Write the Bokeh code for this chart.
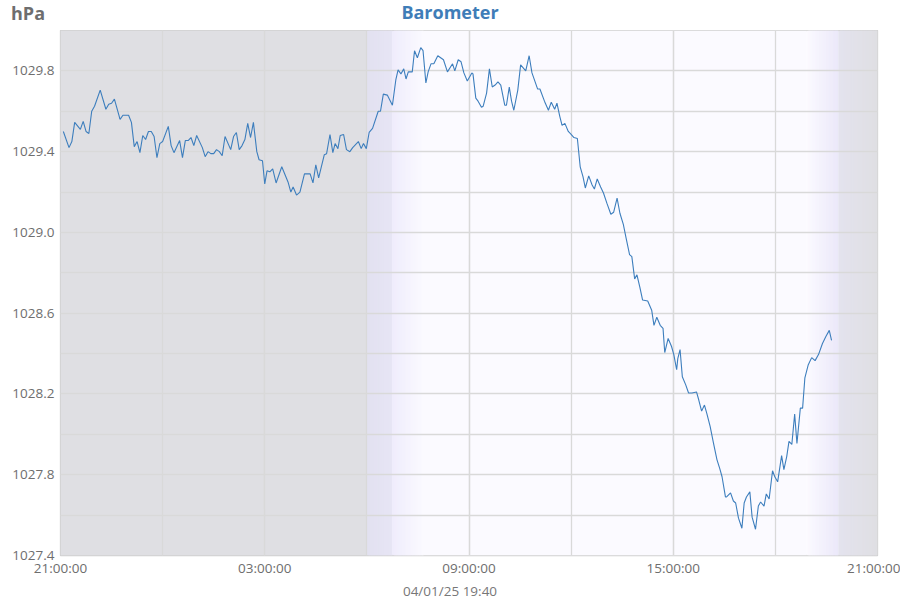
import numpy as np
from bokeh.plotting import figure
from bokeh.layouts import column
from bokeh.models import (Range1d, FixedTicker, DatetimeTickFormatter, BoxAnnotation, Div,
                          PrintfTickFormatter)
from bokeh.embed import file_html
from bokeh.resources import INLINE

# 24 hours of barometer readings, starting 31 Mar 2025 21:00
start = np.datetime64("2025-03-31T21:00")

minutes = [
    5, 15, 20, 25, 35, 40, 45, 50, 55, 60, 70, 80, 85, 90, 95, 105, 110, 120,
    125, 130, 135, 140, 145, 150, 155, 160, 165, 170, 175, 180, 190, 195, 200,
    210, 215, 220, 225, 230, 235, 240, 250, 255, 260, 265, 270, 275, 280, 285,
    290, 300, 305, 310, 315, 320, 325, 330, 335, 340, 346, 350, 356, 360, 364,
    369, 374, 380, 390, 401, 406, 410, 416, 422, 430, 440, 445, 450, 455, 465,
    469, 475, 480, 484, 489, 493, 499, 504, 510, 515, 525, 530, 534, 539, 544,
    550, 560, 564, 569, 576, 585, 591, 595, 600, 605, 609, 613, 620, 624, 629,
    635, 639, 644, 648, 653, 658, 665, 675, 682, 691, 695, 701, 706, 711, 717,
    725, 727, 732, 736, 742, 745, 751, 756, 761, 766, 771, 776, 783, 786, 791,
    795, 799, 806, 811, 820, 826, 831, 841, 845, 853, 860, 865, 871, 875, 880,
    884, 889, 895, 900, 905, 911, 916, 921, 925, 931, 937, 941, 946, 952, 957,
    963, 970, 975, 981, 986, 992, 997, 1003, 1007, 1012, 1016, 1021, 1026,
    1035, 1042, 1046, 1051, 1057, 1062, 1065, 1071, 1077, 1081, 1086, 1088,
    1092, 1096, 1102, 1107, 1113, 1121, 1125, 1130, 1135, 1139, 1145, 1151,
    1157, 1162, 1166, 1172, 1174, 1181, 1186, 1190, 1195, 1201, 1205, 1209,
    1215, 1219, 1225, 1230, 1234, 1240, 1244, 1249, 1255, 1259, 1264, 1271,
    1275, 1280, 1284, 1289, 1294, 1298, 1304, 1308, 1312, 1318, 1324, 1330,
    1336, 1343, 1349, 1355, 1359,
]

pressure = [
    1029.50, 1029.42, 1029.45, 1029.545, 1029.51, 1029.55, 1029.50, 1029.49,
    1029.60, 1029.625, 1029.705, 1029.61, 1029.635, 1029.64, 1029.66, 1029.56,
    1029.58, 1029.58, 1029.545, 1029.425, 1029.45, 1029.395, 1029.48, 1029.46,
    1029.50, 1029.50, 1029.475, 1029.37, 1029.44, 1029.45, 1029.525, 1029.43,
    1029.395, 1029.455, 1029.37, 1029.455, 1029.455, 1029.47, 1029.43,
    1029.48, 1029.42, 1029.375, 1029.40, 1029.39, 1029.39, 1029.41, 1029.40,
    1029.38, 1029.475, 1029.41, 1029.475, 1029.495, 1029.41, 1029.43, 1029.46,
    1029.54, 1029.47, 1029.545, 1029.40, 1029.36, 1029.355, 1029.24, 1029.305,
    1029.30, 1029.315, 1029.245, 1029.325, 1029.25, 1029.20, 1029.225,
    1029.185, 1029.20, 1029.29, 1029.29, 1029.245, 1029.335, 1029.27,
    1029.385, 1029.39, 1029.485, 1029.395, 1029.44, 1029.415, 1029.48,
    1029.485, 1029.41, 1029.40, 1029.42, 1029.45, 1029.415, 1029.44, 1029.415,
    1029.495, 1029.515, 1029.60, 1029.60, 1029.685, 1029.68, 1029.63,
    1029.755, 1029.805, 1029.785, 1029.81, 1029.76, 1029.795, 1029.795,
    1029.90, 1029.865, 1029.915, 1029.90, 1029.74, 1029.795, 1029.835,
    1029.835, 1029.875, 1029.855, 1029.795, 1029.835, 1029.80, 1029.855,
    1029.845, 1029.79, 1029.75, 1029.79, 1029.785, 1029.665, 1029.65, 1029.62,
    1029.625, 1029.69, 1029.81, 1029.72, 1029.73, 1029.745, 1029.73, 1029.63,
    1029.63, 1029.72, 1029.65, 1029.605, 1029.705, 1029.83, 1029.80, 1029.875,
    1029.79, 1029.71, 1029.71, 1029.65, 1029.605, 1029.645, 1029.61, 1029.64,
    1029.575, 1029.53, 1029.54, 1029.50, 1029.485, 1029.47, 1029.465,
    1029.325, 1029.275, 1029.22, 1029.28, 1029.235, 1029.215, 1029.265,
    1029.225, 1029.195, 1029.145, 1029.09, 1029.10, 1029.17, 1029.095,
    1029.04, 1028.97, 1028.89, 1028.88, 1028.77, 1028.79, 1028.73, 1028.665,
    1028.66, 1028.615, 1028.54, 1028.58, 1028.54, 1028.525, 1028.405,
    1028.475, 1028.435, 1028.395, 1028.32, 1028.375, 1028.42, 1028.285,
    1028.245, 1028.205, 1028.205, 1028.21, 1028.17, 1028.115, 1028.145,
    1028.105, 1028.04, 1027.955, 1027.875, 1027.83, 1027.79, 1027.69,
    1027.69, 1027.71, 1027.67, 1027.66, 1027.585, 1027.535, 1027.66, 1027.69,
    1027.715, 1027.59, 1027.53, 1027.645, 1027.665, 1027.645, 1027.705,
    1027.68, 1027.82, 1027.79, 1027.765, 1027.895, 1027.825, 1027.89,
    1027.965, 1027.95, 1028.10, 1027.955, 1028.13, 1028.13, 1028.28, 1028.345,
    1028.38, 1028.365, 1028.395, 1028.45, 1028.485, 1028.515, 1028.465,
]

y_ticks = [1027.4, 1027.8, 1028.2, 1028.6, 1029.0, 1029.4, 1029.8]
y_minor = [1027.6, 1028.0, 1028.4, 1028.8, 1029.2, 1029.6, 1030.0]

title_text = "Barometer"
unit_text = "hPa"
stamp_text = "04/01/25 19:40"

# night / twilight / day shading (minutes after start, rgb at both ends)
NIGHT = (223, 223, 227)
DAY = (251, 250, 255)
shade = [
    (0, 540, NIGHT, NIGHT),
    (540, 585, (226, 225, 240), (231, 229, 245)),
    (585, 640, (239, 236, 252), DAY),
    (640, 1315, DAY, DAY),
    (1315, 1371, DAY, (235, 232, 249)),
    (1371, 1440, (228, 227, 238), NIGHT),
]

EPOCH = np.datetime64("1970-01-01T00:00")
START_MS = float((start - EPOCH) / np.timedelta64(1, "ms"))


def ms(m):
    return START_MS + m * 60000.0


times = (start + np.array(minutes).astype("timedelta64[m]")).astype("datetime64[ms]")

p = figure(width=900, height=550, x_axis_type="datetime",
           x_range=Range1d(ms(0), ms(1440)), y_range=Range1d(1027.4, 1030.0),
           output_backend="svg", toolbar_location=None,
           min_border_left=60, min_border_right=23, min_border_top=0, min_border_bottom=25)
p.background_fill_color = "white"
p.border_fill_color = "white"
p.outline_line_color = "#d0d0d0"
p.outline_line_width = 1.3

for t0, t1, c0, c1 in shade:
    n = 1 if c0 == c1 else max(1, (t1 - t0) // 3)
    for i in range(n):
        a = t0 + (t1 - t0) * i / n
        b = t0 + (t1 - t0) * (i + 1) / n
        f = (i + 0.5) / n
        col = tuple(int(round(c0[k] + (c1[k] - c0[k]) * f)) for k in range(3))
        # each stripe overlaps the next one, so no seams show between them
        extra = 0 if (n == 1 or i == n - 1) else (b - a)
        p.add_layout(BoxAnnotation(left=ms(a), right=ms(b + extra),
                                   fill_color="#%02x%02x%02x" % col,
                                   fill_alpha=1, line_color=None, level="image"))

p.line(times, pressure, line_color="#3d7ebd", line_width=1.1)

xticker = FixedTicker(ticks=[ms(m) for m in range(0, 1441, 360)],
                      minor_ticks=[ms(m) for m in range(0, 1441, 180)])
p.xaxis.ticker = xticker
fmt = "%H:%M:%S"
p.xaxis.formatter = DatetimeTickFormatter(
    microseconds=fmt, milliseconds=fmt, seconds=fmt, minsec=fmt, minutes=fmt,
    hourmin=fmt, hours=fmt, days=fmt, months=fmt, years=fmt, strip_leading_zeros=False)
p.yaxis.ticker = FixedTicker(ticks=y_ticks, minor_ticks=y_minor)
p.yaxis.formatter = PrintfTickFormatter(format="%.1f")

for ax in (p.xaxis, p.yaxis):
    ax.axis_line_color = None
    ax.major_tick_line_color = None
    ax.minor_tick_line_color = None
    ax.major_tick_out = 0
    ax.major_tick_in = 0
    ax.minor_tick_out = 0
    ax.minor_tick_in = 0
    ax.major_label_text_font = "Open Sans"
    ax.major_label_text_font_size = "13.5px"
    ax.major_label_text_color = "#6e6e6e"
p.yaxis.major_label_standoff = 6
p.xaxis.major_label_standoff = 3

for g in (p.xgrid, p.ygrid):
    g.grid_line_color = "#d9d9d9"
    g.grid_line_width = 1.3
    g.minor_grid_line_color = "#d9d9d9"
    g.minor_grid_line_width = 1.3

header = Div(width=900, height=30, margin=0, text=(
    '<div style="position:relative;width:900px;height:30px;font-family:\'Open Sans\';'
    'font-weight:bold;font-size:18px;line-height:normal;">'
    '<span style="position:absolute;left:11px;top:1px;color:#6e6e6e;">%s</span>'
    '<span style="position:absolute;left:0;top:0;width:900px;text-align:center;'
    'color:#3f7db8;">%s</span></div>') % (unit_text, title_text))
footer = Div(width=900, height=20, margin=0, text=(
    '<div style="position:relative;width:900px;height:20px;font-family:\'Open Sans\';'
    'font-size:13.5px;line-height:normal;">'
    '<span style="position:absolute;left:0;top:2px;width:900px;text-align:center;'
    'color:#777777;">%s</span></div>') % stamp_text)

page = column(header, p, footer, spacing=0)

open("out.html", "w").write(file_html(page, INLINE))
